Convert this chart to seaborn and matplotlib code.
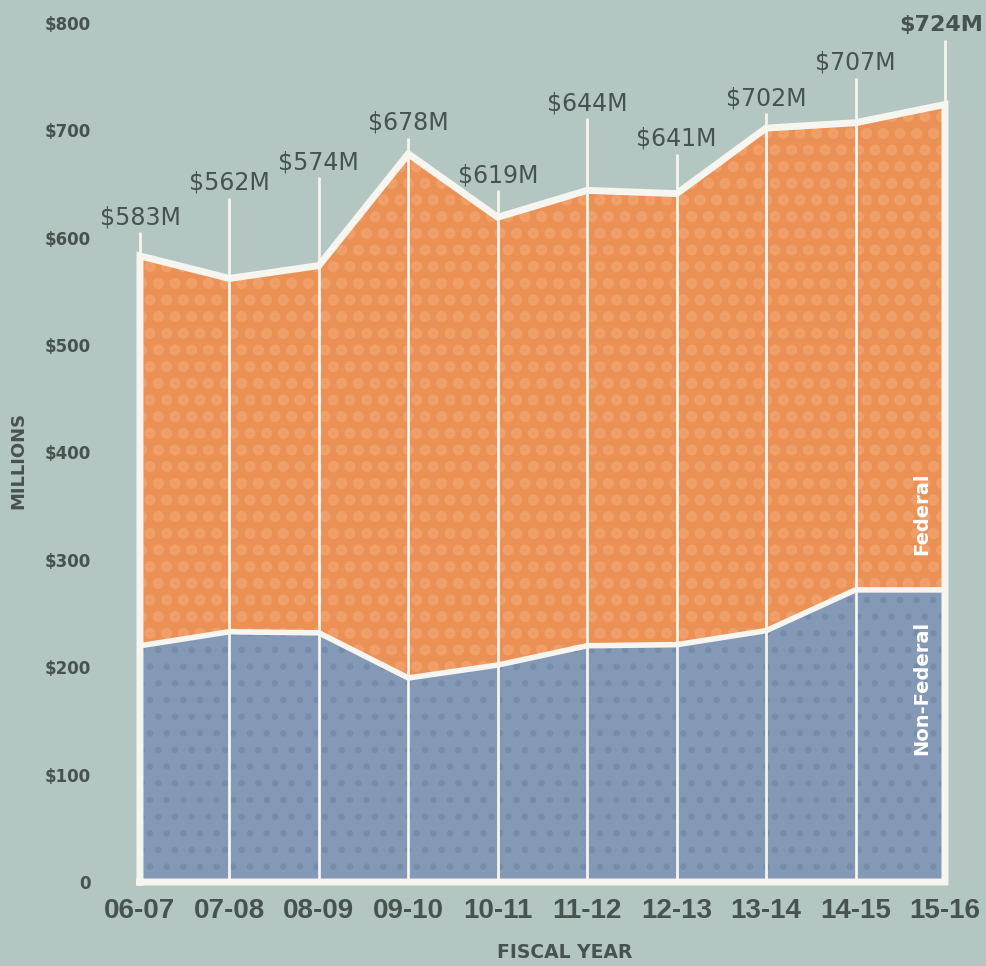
import matplotlib.pyplot as plt
import seaborn as sns
import pandas as pd
import numpy as np

# data (millions of dollars)
years = ['06-07', '07-08', '08-09', '09-10', '10-11',
         '11-12', '12-13', '13-14', '14-15', '15-16']
total = [583, 562, 574, 678, 619, 644, 641, 702, 707, 724]
non_federal = [220, 233, 232, 190, 202, 220, 221, 234, 272, 272]
value_labels = ['$583M', '$562M', '$574M', '$678M', '$619M',
                '$644M', '$641M', '$702M', '$707M', '$724M']
y_ticks = [0, 100, 200, 300, 400, 500, 600, 700, 800]
y_tick_labels = ['0', '$100', '$200', '$300', '$400',
                 '$500', '$600', '$700', '$800']

# layout: height (data units) of each value label
label_y = [619, 651, 670, 707, 658, 725, 692, 730, 763, 798]

BG = '#b3c6c2'
ORANGE = '#ec9156'
BLUE = '#8499b5'
WHITE = '#f6f5ef'
TEXT = '#46534f'

sns.set_theme(style='white', rc={'axes.facecolor': BG, 'figure.facecolor': BG})
plt.rcParams['font.family'] = ['DejaVu Sans']

df = pd.DataFrame({'year': years, 'total': total, 'non_federal': non_federal})
df['x'] = np.arange(len(df))
n = len(df)

fig = plt.figure(figsize=(9.87, 9.66), dpi=100)
ax = fig.add_axes([0.1013, 0.0735, 0.8987, 0.9213])

# stacked areas
ax.fill_between(df['x'], 0, df['total'], color=ORANGE, lw=0, zorder=1)
ax.fill_between(df['x'], 0, df['non_federal'], color=BLUE, lw=0, zorder=1)

# checker-like texture
with plt.rc_context({'hatch.linewidth': 3.0}):
    ax.fill_between(df['x'], df['non_federal'], df['total'], facecolor='none',
                    edgecolor='#f19f68', hatch='o', lw=0, zorder=2)
with plt.rc_context({'hatch.linewidth': 2.2}):
    ax.fill_between(df['x'], 0, df['non_federal'], facecolor='none',
                    edgecolor='#768cab', hatch='.', lw=0, zorder=2)

# vertical guide lines up to the value labels
ax.vlines(df['x'], 0, np.array(label_y) - 14, color=WHITE, lw=2, zorder=3)

# boundary between federal / non-federal and outline of the total
sns.lineplot(x=df['x'], y=df['non_federal'], color=WHITE, lw=4,
             ax=ax, zorder=4)
outline_x = [0] + list(df['x']) + [n - 1, 0]
outline_y = [0] + list(df['total']) + [0, 0]
ax.plot(outline_x, outline_y, color=WHITE, lw=5, zorder=5,
        solid_joinstyle='miter', solid_capstyle='projecting')

for xi, lab, ly in zip(df['x'], value_labels, label_y):
    if xi == n - 1:
        ax.text(xi - 0.04, ly, lab, ha='center', va='center', fontsize=16,
                color=TEXT, fontweight='bold', clip_on=False, zorder=6)
    else:
        ax.text(xi, ly, lab, ha='center', va='center', fontsize=17,
                color=TEXT, clip_on=False, zorder=6)

ax.text(8.74, 343, 'Federal', rotation=90, ha='center', va='center',
        color='white', fontsize=14, fontweight='bold', zorder=6)
ax.text(8.74, 181, 'Non-Federal', rotation=90, ha='center', va='center',
        color='white', fontsize=14, fontweight='bold', zorder=6)

ax.set_xlim(-0.447, 9.47)
ax.set_ylim(-12.1, 816.6)
ax.set_xticks(df['x'])
ax.set_xticklabels(years, fontsize=20, fontweight='bold', color=TEXT,
                   family=['Liberation Sans', 'DejaVu Sans'])
ax.set_yticks(y_ticks)
ax.set_yticklabels(y_tick_labels, fontsize=12, fontweight='bold', color=TEXT)
ax.tick_params(axis='x', length=0, pad=2)
ax.tick_params(axis='y', length=0, pad=6.5)
ax.set_xlabel('')
ax.set_ylabel('')
sns.despine(ax=ax, left=True, bottom=True)

fig.text(565 / 987, 1 - 952 / 966, 'FISCAL YEAR', ha='center', va='center',
         fontsize=13.5, fontweight='bold', color=TEXT)
fig.text(18 / 987, 1 - 460 / 966, 'MILLIONS', ha='center', va='center',
         rotation=90, fontsize=13, fontweight='bold', color=TEXT)

fig.savefig('out.png', dpi=100, facecolor=BG)
